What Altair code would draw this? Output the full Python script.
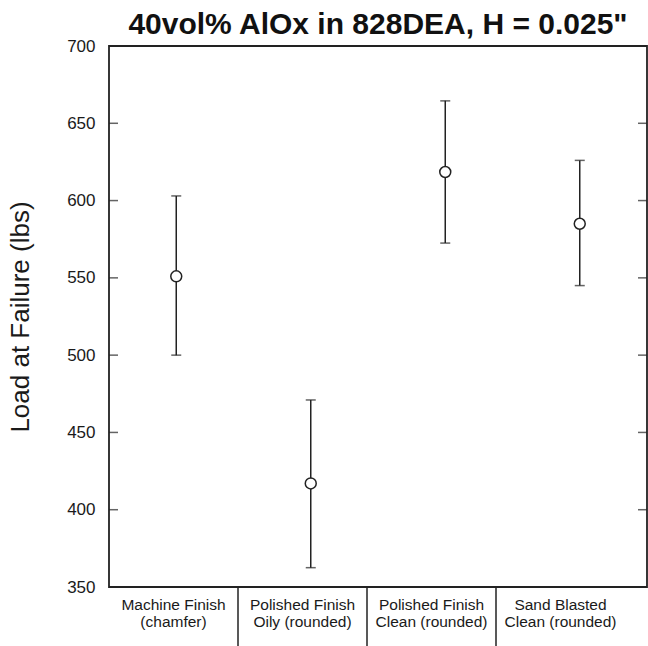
import altair as alt
import pandas as pd

# ---- data ----
categories = ["Machine Finish", "Polished Finish Oily", "Polished Finish Clean", "Sand Blasted Clean"]
label_line1 = ["Machine Finish", "Polished Finish", "Polished Finish", "Sand Blasted"]
label_line2 = ["(chamfer)", "Oily (rounded)", "Clean (rounded)", "Clean (rounded)"]
means = [551, 417, 618.5, 585]
upper = [603, 471, 664.5, 626]
lower = [500, 362.5, 572.5, 545]
y_ticks = [350, 400, 450, 500, 550, 600, 650, 700]

W, H = 538, 541
FONT = "Liberation Sans"

df = pd.DataFrame({
    "cat": categories,
    "pos": [i + 0.5 for i in range(len(categories))],
    "mean": means,
    "upper": upper,
    "lower": lower,
})
labels_df = pd.DataFrame({
    "pos": [i + 0.5 for i in range(len(categories))],
    "label": [a + "\n" + b for a, b in zip(label_line1, label_line2)],
})
sep_df = pd.DataFrame({"sep": [1, 2, 3]})
ticks_df = pd.DataFrame({"t": y_ticks})

xscale = alt.Scale(domain=[0, 4], nice=False, zero=False)
yscale = alt.Scale(domain=[350, 700], nice=False, zero=False)
yaxis = alt.Axis(
    values=y_ticks, ticks=False, domain=False, grid=False,
    labelFontSize=17, labelFont=FONT, labelColor="#1a1a1a", labelPadding=14,
    title="Load at Failure (lbs)", titleFont=FONT, titleFontSize=26,
    titleFontWeight="normal", titleColor="#1a1a1a", titlePadding=33,
)

base = alt.Chart(df)

tick_l = alt.Chart(ticks_df).mark_tick(color="#222", orient="horizontal", size=9, thickness=1.5).encode(
    x=alt.value(4.5), y=alt.Y("t:Q", scale=yscale, axis=yaxis)
)
tick_r = alt.Chart(ticks_df).mark_tick(color="#222", orient="horizontal", size=9, thickness=1.5).encode(
    x=alt.value(W - 4.5), y=alt.Y("t:Q", scale=yscale, axis=yaxis)
)

bars = base.mark_rule(color="#222", strokeWidth=1.5).encode(
    x=alt.X("pos:Q", scale=xscale, axis=None),
    y=alt.Y("lower:Q", scale=yscale, axis=yaxis),
    y2="upper:Q",
)
cap_hi = base.mark_tick(color="#222", orient="horizontal", size=10, thickness=1.5).encode(
    x=alt.X("pos:Q", scale=xscale, axis=None),
    y=alt.Y("upper:Q", scale=yscale, axis=yaxis),
)
cap_lo = base.mark_tick(color="#222", orient="horizontal", size=10, thickness=1.5).encode(
    x=alt.X("pos:Q", scale=xscale, axis=None),
    y=alt.Y("lower:Q", scale=yscale, axis=yaxis),
)
pts = base.mark_point(shape="circle", fill="white", stroke="#222", strokeWidth=1.5,
                      size=120, opacity=1, fillOpacity=1).encode(
    x=alt.X("pos:Q", scale=xscale, axis=None),
    y=alt.Y("mean:Q", scale=yscale, axis=yaxis),
)

tscale = alt.Scale(domain=[0, 4], range=[0, 516], nice=False, zero=False)
cat_text = alt.Chart(labels_df).mark_text(
    font=FONT, fontSize=15.5, color="#1a1a1a", lineBreak="\n", lineHeight=17,
    baseline="alphabetic", align="center",
).encode(
    x=alt.X("pos:Q", scale=tscale, axis=None),
    y=alt.value(H + 23),
    text="label:N",
)
seps = alt.Chart(sep_df).mark_rule(color="#222", strokeWidth=1.5).encode(
    x=alt.X("sep:Q", scale=tscale, axis=None),
    y=alt.value(H),
    y2=alt.value(H + 70),
)

chart = alt.layer(
    tick_l, tick_r, bars, cap_hi, cap_lo, pts, cat_text, seps
).resolve_scale(x="independent").properties(
    width=W, height=H,
    title=alt.TitleParams(
        "40vol% AlOx in 828DEA, H = 0.025\"", font=FONT, fontSize=30,
        fontWeight="bold", color="#111", anchor="middle", offset=0, dy=3,
    ),
    autosize=alt.AutoSizeParams(type="none"),
    padding={"left": 109, "top": 46, "right": 1, "bottom": 59},
).configure(background="white").configure_view(
    stroke="#222", strokeWidth=1.8
).configure_axisY(ticks=False, domain=False)

chart.save("out.html", embed_options={"renderer": "svg", "actions": False})
